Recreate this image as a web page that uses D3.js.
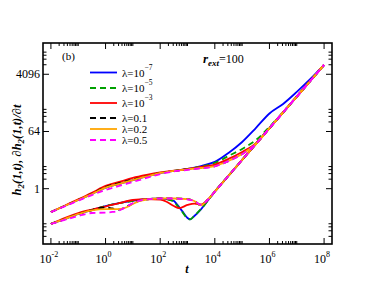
<!DOCTYPE html>
<html lang="en">
<head>
<meta charset="UTF-8">
<title>h2 vs t</title>
<script src="https://cdn.jsdelivr.net/npm/d3@7"></script>
<style>
  body { margin: 0; background: #fff; }
  text { font-family: "Liberation Serif", "Times New Roman", serif; }
</style>
</head>
<body>
<script>
    // ---- data ----
    var lambdas = ["10^-7", "10^-5", "10^-3", "0.1", "0.2", "0.5"];
    var colors  = ["#0000ff", "#00a000", "#ff0000", "#000000", "#ffa500", "#ff00ff"];
    var dashed  = [false, true, false, true, false, true];

    var xTicks = [1e-2, 1, 1e2, 1e4, 1e6, 1e8];
    var xTickExp = ["-2", "0", "2", "4", "6", "8"];
    var yTicks = [1, 64, 4096];

    // common large-t asymptote  h ~ t
    var tail = [[1e4,0.81],[31623,2.56],[1e5,8.1],[316228,25.6],[1e6,81],[3.16e6,256],[1e7,810],[3.16e7,2560],[1e8,8100]];
    var tailLate = [[1e6,81],[3.16e6,256],[1e7,810],[3.16e7,2560],[1e8,8100]];

    // upper family: h2(1,t)
    var h2_l7 = [[0.01,0.183],[0.0316,0.284],[0.1,0.44],[0.316,0.68],[1,1.08],[3.16,1.41],[10,1.88],[31.6,2.43],[100,3.13],[316,3.63],[1000,4.19],
                 [3162,5.2],[1e4,7.0],[31623,13.4],[1e5,29.8],[316228,82],[1e6,237],[3.16e6,474],[1e7,1135],[3.16e7,2920],[1e8,8100]];
    var h2_l5 = [[0.01,0.183],[0.0316,0.284],[0.1,0.44],[0.316,0.68],[1,1.08],[3.16,1.41],[10,1.88],[31.6,2.43],[100,3.13],[316,3.63],[1000,4.15],
                 [3162,5.0],[1e4,6.5],[31623,10.8],[1e5,18],[316228,34],[1e6,89],[3.16e6,262],[1e7,810],[3.16e7,2560],[1e8,8100]];
    var h2_l3 = [[0.01,0.183],[0.0316,0.29],[0.1,0.46],[0.316,0.74],[1,1.22],[3.16,1.63],[10,2.18],[31.6,2.71],[100,3.25],[316,3.7],[1000,4.19],
                 [3162,4.85],[1e4,5.8],[31623,8.7],[1e5,14.4],[316228,27]].concat(tailLate);
    var h2_01 = [[0.01,0.183],[0.0316,0.284],[0.1,0.44],[0.316,0.69],[1,1.13],[3.16,1.5],[10,1.95],[31.6,2.45],[100,3.13],[316,3.63],[1000,4.1],
                 [3162,4.5],[1e4,5.2],[31623,7.5],[1e5,12.5],[316228,25.8]].concat(tailLate);
    var h2_02 = [[0.01,0.183],[0.0316,0.284],[0.1,0.44],[0.316,0.68],[1,1.08],[3.16,1.41],[10,1.88],[31.6,2.43],[100,3.13],[316,3.63],[1000,4.1],
                 [3162,4.5],[1e4,5.2],[31623,7.5],[1e5,12.5],[316228,25.8]].concat(tailLate);
    var h2_05 = [[0.01,0.183],[0.0316,0.275],[0.1,0.42],[0.316,0.63],[1,0.91],[3.16,1.22],[10,1.63],[31.6,2.18],[100,2.91],[316,3.5],[1000,3.9],
                 [3162,4.4],[1e4,5.1],[31623,7.4],[1e5,12.3],[316228,25.8]].concat(tailLate);

    // lower family: dh2(1,t)/dt
    var dh_l7 = [[0.01,0.077],[0.0316,0.11],[0.1,0.159],[0.316,0.212],[1,0.284],[3.16,0.35],[10,0.41],[31.6,0.47],[100,0.49],[316,0.41],
                 [398,0.33],[631,0.2],[1000,0.119],[1259,0.108],[1778,0.137],[3162,0.228]].concat(tail);
    var dh_l5 = [[0.01,0.077],[0.0316,0.11],[0.1,0.159],[0.316,0.212],[1,0.284],[3.16,0.35],[10,0.41],[31.6,0.47],[100,0.49],[316,0.40],
                 [398,0.31],[631,0.19],[1000,0.115],[1259,0.108],[1778,0.14],[3162,0.23]].concat(tail);
    var dh_l3 = [[0.01,0.077],[0.0316,0.119],[0.1,0.171],[0.316,0.22],[1,0.274],[3.16,0.35],[10,0.44],[31.6,0.47],[100,0.456],[178,0.38],
                 [316,0.284],[501,0.245],[1000,0.306],[1778,0.34],[3162,0.317],[5623,0.46]].concat(tail);
    var dh_01 = [[0.01,0.077],[0.0316,0.11],[0.1,0.159],[0.316,0.212],[0.562,0.245],[1,0.255],[1.78,0.237],[3.16,0.22],[5.62,0.264],[10,0.34],
                 [17.8,0.42],[31.6,0.456],[100,0.49],[316,0.49],[1000,0.47],[1778,0.41],[3162,0.3],[5623,0.456]].concat(tail);
    var dh_02 = [[0.01,0.077],[0.0316,0.11],[0.1,0.159],[0.316,0.207],[1,0.228],[3.16,0.228],[5.62,0.255],[10,0.33],[17.8,0.41],[31.6,0.456],
                 [100,0.49],[316,0.49],[1000,0.47],[1778,0.41],[3162,0.3],[5623,0.456]].concat(tail);
    var dh_05 = [[0.01,0.077],[0.0316,0.103],[0.1,0.138],[0.316,0.171],[1,0.177],[1.78,0.184],[3.16,0.205],[5.62,0.264],[10,0.35],[17.8,0.42],
                 [31.6,0.456],[100,0.49],[316,0.49],[1000,0.456],[1778,0.41],[3162,0.306],[5623,0.456]].concat(tail);

    var upper = [h2_l7, h2_l5, h2_l3, h2_01, h2_02, h2_05];
    var lower = [dh_l7, dh_l5, dh_l3, dh_01, dh_02, dh_05];

    // ---- layout ----
    var width = 374, height = 289;
    var padL = 43, padR = 332, padT = 43, padB = 244;

    var svg = d3.select('body').append('svg')
            .attr('width', width)
            .attr('height', height);

    var x = d3.scaleLog().base(10)
            .domain([Math.pow(10, -2.29), Math.pow(10, 8.29)])
            .range([padL, padR]);
    var y = d3.scaleLog().base(2)
            .domain([Math.pow(2, -5.8), Math.pow(2, 15.28)])
            .range([padB, padT]);

    var line = d3.line()
            .x(function(d){ return x(d[0]); })
            .y(function(d){ return y(d[1]); })
            .curve(d3.curveMonotoneX);

    svg.append('clipPath').attr('id', 'clip')
        .append('rect').attr('x', padL).attr('y', padT)
        .attr('width', padR - padL).attr('height', padB - padT);

    var curves = svg.append('g').attr('clip-path', 'url(#clip)');
    for (var i = 0; i < lambdas.length; i++) {
        [upper[i], lower[i]].forEach(function(data) {
            curves.append('path')
                .attr('d', line(data))
                .attr('fill', 'none')
                .attr('stroke', colors[i])
                .attr('stroke-width', 1.8)
                .attr('stroke-dasharray', dashed[i] ? '6,4' : null);
        });
    }

    // ---- frame and ticks (inward, on all four sides) ----
    svg.append('rect')
        .attr('x', padL).attr('y', padT)
        .attr('width', padR - padL).attr('height', padB - padT)
        .attr('fill', 'none').attr('stroke', '#000').attr('stroke-width', 1.6);

    var ticks = svg.append('g').attr('stroke', '#000').attr('stroke-width', 1);
    xTicks.forEach(function(t) {
        ticks.append('line').attr('x1', x(t)).attr('x2', x(t)).attr('y1', padB).attr('y2', padB - 6);
        ticks.append('line').attr('x1', x(t)).attr('x2', x(t)).attr('y1', padT).attr('y2', padT + 6);
        if (t < 1e8) {
            for (var k = 2; k <= 10; k++) {
                var xm = x(t * k);
                ticks.append('line').attr('x1', xm).attr('x2', xm).attr('y1', padB).attr('y2', padB - 3);
                ticks.append('line').attr('x1', xm).attr('x2', xm).attr('y1', padT).attr('y2', padT + 3);
            }
        }
    });
    [1/64, 1, 64, 4096].forEach(function(v) {
        if (v >= 1) {
            ticks.append('line').attr('x1', padL).attr('x2', padL + 6).attr('y1', y(v)).attr('y2', y(v));
            ticks.append('line').attr('x1', padR).attr('x2', padR - 6).attr('y1', y(v)).attr('y2', y(v));
        }
        for (var k = 2; k <= 5; k++) {
            var ym = y(v * k);
            ticks.append('line').attr('x1', padL).attr('x2', padL + 3.5).attr('y1', ym).attr('y2', ym);
            ticks.append('line').attr('x1', padR).attr('x2', padR - 3.5).attr('y1', ym).attr('y2', ym);
        }
    });

    // tick labels
    xTicks.forEach(function(t, i) {
        var tx = svg.append('text')
            .attr('x', x(t) - 2).attr('y', 263)
            .attr('text-anchor', 'middle')
            .attr('font-size', 12);
        tx.append('tspan').text('10');
        tx.append('tspan').attr('dy', -6).attr('font-size', 8).text(xTickExp[i]);
    });
    yTicks.forEach(function(v) {
        svg.append('text')
            .attr('x', 40).attr('y', y(v) + 4)
            .attr('text-anchor', 'end')
            .attr('font-size', 12)
            .text(v);
    });

    // axis titles
    svg.append('text')
        .attr('x', 187).attr('y', 273)
        .attr('text-anchor', 'middle')
        .attr('font-size', 12).attr('font-weight', 'bold').attr('font-style', 'italic')
        .text('t');

    var yl = svg.append('text')
        .attr('transform', 'translate(21,150) rotate(-90)')
        .attr('text-anchor', 'middle')
        .attr('font-size', 12.5).attr('font-weight', 'bold').attr('font-style', 'italic');
    yl.append('tspan').text('h');
    yl.append('tspan').attr('dy', 3).attr('font-size', 9).text('2');
    yl.append('tspan').attr('dy', -3).text('(1,t),  \u2202h');
    yl.append('tspan').attr('dy', 3).attr('font-size', 9).text('2');
    yl.append('tspan').attr('dy', -3).text('(1,t)/\u2202t');

    // annotations
    svg.append('text').attr('x', 62).attr('y', 60).attr('font-size', 11).text('(b)');
    var r = svg.append('text').attr('x', 203).attr('y', 63).attr('font-size', 13);
    r.append('tspan').attr('font-style', 'italic').attr('font-weight', 'bold').text('r');
    r.append('tspan').attr('dy', 3).attr('font-size', 9).attr('font-style', 'italic').attr('font-weight', 'bold').text('ext');
    r.append('tspan').attr('dy', -3).attr('font-size', 12).text('=100');

    // legend
    var legendY = [72.5, 88, 103, 118, 129, 140];
    lambdas.forEach(function(l, i) {
        svg.append('line')
            .attr('x1', 90).attr('x2', 117)
            .attr('y1', legendY[i]).attr('y2', legendY[i])
            .attr('stroke', colors[i]).attr('stroke-width', 1.8)
            .attr('stroke-dasharray', dashed[i] ? '6,4' : null);
        var t = svg.append('text')
            .attr('x', 122).attr('y', legendY[i] + 4)
            .attr('font-size', 11);
        var parts = l.split('^');
        t.append('tspan').text('\u03bb=' + parts[0]);
        if (parts[1]) {
            t.append('tspan').attr('dy', -7).attr('font-size', 7.5).text(parts[1].replace('-', '\u2212'));
        }
    });
</script>
</body>
</html>
